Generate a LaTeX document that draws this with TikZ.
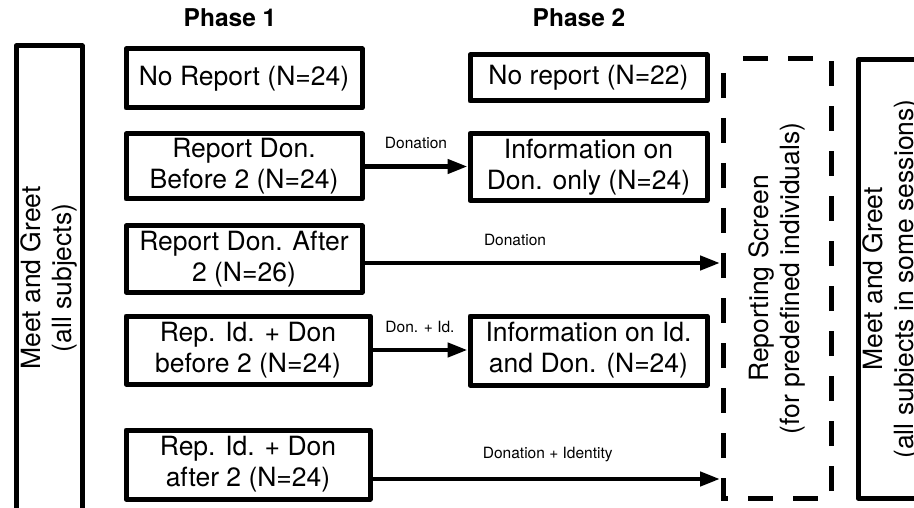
\documentclass[tikz,border=0pt]{standalone}
\usepackage{fontspec}
\setmainfont{TeX Gyre Heros}
\usetikzlibrary{arrows.meta}

\begin{document}
\begin{tikzpicture}[x=1pt,y=-1pt,
    box/.style={draw,line width=5pt,line join=round,inner sep=0pt,align=center,font=\fontsize{26.5}{31}\selectfont},
    sidebox/.style={box,rotate=90,minimum height=66pt},
    phase/.style={font=\fontsize{24.5}{29}\selectfont\bfseries},
    flow/.style={line width=4.5pt,-{Triangle[length=20pt,width=14pt]}},
    flowlabel/.style={above=12pt,font=\fontsize{15.5}{18}\selectfont},
    screenframe/.style={line width=5pt,dash pattern=on 25pt off 20pt,dash phase=31pt}]
    \useasboundingbox (0,0) rectangle (914,508);

    % Ueberschriften
    \node[phase] (phaseA) at (230,18) {Phase 1};
    \node[phase] (phaseB) at (579,18) {Phase 2};

    % Meet and Greet
    \node[sidebox,minimum width=464pt] (greetA) at (49,278) {Meet and Greet\\(all subjects)};
    \node[sidebox,minimum width=438pt] (greetB) at (891,279) {Meet and Greet\\(all subjects in some sessions)};

    % Phase 1
    \node[box,minimum width=236pt,minimum height=59pt] (pA) at (244,78.5) {No Report (N=24)};
    \node[box,minimum width=236pt,minimum height=65pt] (pB) at (244,166.5) {Report Don.\\Before 2 (N=24)};
    \node[box,minimum width=236pt,minimum height=66pt] (pC) at (244,259) {Report Don. After\\2 (N=26)};
    \node[box,minimum width=244pt,minimum height=68pt] (pD) at (248,350) {Rep. Id. + Don\\before 2 (N=24)};
    \node[box,minimum width=244pt,minimum height=69pt] (pE) at (248,464.5) {Rep. Id. + Don\\after 2 (N=24)};

    % Phase 2
    \node[box,minimum width=237pt,minimum height=46pt] (qA) at (588.5,78) {No report (N=22)};
    \node[box,minimum width=237pt,minimum height=67pt] (qB) at (588.5,167) {Information on\\Don. only (N=24)};
    \node[box,minimum width=237pt,minimum height=69pt] (qD) at (588.5,350.5) {Information on Id.\\and Don. (N=24)};

    % Reporting Screen
    \node[inner sep=0pt,outer sep=0pt,minimum width=108pt,minimum height=439pt] (screen) at (777,278.5) {};
    \draw[screenframe] (screen.north west) rectangle (screen.south east);
    \node[rotate=90,align=center,font=\fontsize{26.5}{31}\selectfont] (screenText) at (screen) {Reporting Screen\\(for predefined individuals)};

    % Pfeile
    \draw[flow] (pB.east) -- node[flowlabel] {Donation} (pB.east -| qB.west);
    \draw[flow,shorten >=3pt] ([yshift=-4pt]pC.east) -- node[flowlabel,pos=0.42] {Donation} ([yshift=-4pt]pC.east -| screen.west);
    \draw[flow] (pD.east) -- node[flowlabel] {Don. + Id.} (pD.east -| qD.west);
    \draw[flow,shorten >=3pt] ([yshift=-14.5pt]pE.east) -- node[flowlabel] {Donation + Identity} ([yshift=-14.5pt]pE.east -| screen.west);
\end{tikzpicture}
\end{document}
